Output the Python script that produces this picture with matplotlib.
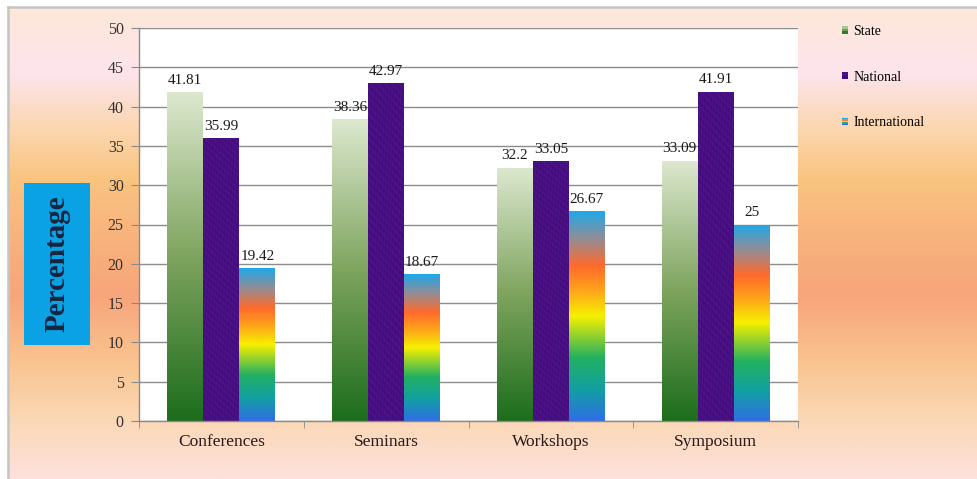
import numpy as np
import matplotlib
matplotlib.use("Agg")
import matplotlib.pyplot as plt
from matplotlib.colors import LinearSegmentedColormap
from matplotlib.patches import Rectangle
from matplotlib.legend_handler import HandlerBase
from matplotlib.lines import Line2D

categories = ["Conferences", "Seminars", "Workshops", "Symposium"]
series_names = ["State", "National", "International"]
state = [41.81, 38.36, 32.2, 33.09]
national = [35.99, 42.97, 33.05, 41.91]
international = [19.42, 18.67, 26.67, 25]
state_labels = ["41.81", "38.36", "32.2", "33.09"]
national_labels = ["35.99", "42.97", "33.05", "41.91"]
international_labels = ["19.42", "18.67", "26.67", "25"]
yticks = [0, 5, 10, 15, 20, 25, 30, 35, 40, 45, 50]

plt.rcParams['font.family'] = ['Liberation Serif', 'DejaVu Serif']

W, H = 977, 479
fig = plt.figure(figsize=(W / 100, H / 100), dpi=100)

# ---- background gradient ----
bg_ax = fig.add_axes([0, 0, 1, 1], zorder=-10)
bg_stops = [(0.0, "#fde8d6"), (0.15, "#fde4ec"), (0.27, "#fbd6ae"),
            (0.37, "#f9c480"), (0.50, "#f8b27d"), (0.62, "#f7a57a"),
            (0.76, "#f9c490"), (0.88, "#fbd8b6"), (1.0, "#fde1dc")]
bg_cmap = LinearSegmentedColormap.from_list("bg", bg_stops)
grad = np.linspace(0, 1, 400).reshape(-1, 1)
bg_ax.imshow(grad, cmap=bg_cmap, aspect='auto', extent=[0, 1, 1, 0],
             interpolation='bilinear')
bg_ax.set_xlim(0, 1)
bg_ax.set_ylim(1, 0)
bg_ax.axis('off')
# white margin + gray border (top and left)
bg_ax.add_patch(Rectangle((0, 0), 1, 7 / H, color='white', zorder=3))
bg_ax.add_patch(Rectangle((0, 0), 8 / W, 1, color='white', zorder=3))
bg_ax.plot([8 / W, 1], [7 / H, 7 / H], color='#c4c4c4', lw=1.8, zorder=4)
bg_ax.plot([8 / W, 8 / W], [7 / H, 1], color='#c4c4c4', lw=1.8, zorder=4)

# ---- main axes ----
ax = fig.add_axes([139 / W, (H - 421) / H, (798 - 139) / W, (421 - 28) / H])
ax.set_facecolor('white')
x = np.arange(len(categories)) + 0.5
bw = 36 / 164.75

state_cmap = LinearSegmentedColormap.from_list(
    "state", [(0, "#1c6d1c"), (0.5, "#7ea45e"), (1, "#dde8cf")])
nat_cmap = LinearSegmentedColormap.from_list(
    "nat", [(0, "#40097a"), (1, "#4a1185")])
intl_cmap = LinearSegmentedColormap.from_list(
    "intl", [(0, "#2f6ee6"), (0.15, "#12a0a2"), (0.30, "#22b062"),
             (0.50, "#f6f000"), (0.62, "#ffa51a"), (0.74, "#ff6a2c"),
             (0.86, "#9c8a8e"), (1.0, "#1ea8ea")])

vals = [state, national, international]
labels = [state_labels, national_labels, international_labels]
cmaps = [state_cmap, nat_cmap, intl_cmap]
offsets = [-bw, 0, bw]

gv = np.linspace(0, 1, 256).reshape(-1, 1)
for s in range(3):
    bars = ax.bar(x + offsets[s], vals[s], width=bw, facecolor='none',
                  edgecolor='none', zorder=3)
    for b, lab in zip(bars, labels[s]):
        x0, y0 = b.get_x(), b.get_y()
        w, h = b.get_width(), b.get_height()
        if s == 1:
            xx, yy = np.meshgrid(np.linspace(0, 30, 40), np.linspace(0, 120, 300))
            tex = 0.5 + 0.25 * np.sin(xx * 1.7 + yy * 0.9) * np.cos(yy * 1.3 - xx * 0.7)
            img = ax.imshow(tex, cmap=LinearSegmentedColormap.from_list(
                "tx", ["#36066a", "#5a1a9a"]), vmin=0, vmax=1,
                extent=[x0, x0 + w, y0, y0 + h], origin='lower',
                aspect='auto', zorder=2.5, interpolation='bilinear')
        else:
            img = ax.imshow(gv, cmap=cmaps[s], vmin=0, vmax=1,
                            extent=[x0, x0 + w, y0, y0 + h], origin='lower',
                            aspect='auto', zorder=2.5, interpolation='bilinear')
        img.set_clip_path(b)
        ax.annotate(lab, (x0 + w / 2, y0 + h), xytext=(0, 4),
                    textcoords='offset points', ha='center', va='bottom',
                    fontsize=11, color='#1a1a1a', zorder=5)

ax.set_xlim(0, 4)
ax.set_ylim(0, 50)
ax.set_yticks(yticks)
ax.set_yticklabels([str(t) for t in yticks])
ax.set_xticks(x)
ax.set_xticklabels(categories)
ax.set_xticks(np.arange(0, 5), minor=True)
ax.tick_params(axis='x', which='major', length=0, pad=9, labelsize=12.5,
               labelcolor='#2a1a1a')
ax.tick_params(axis='x', which='minor', length=5, color='#8a8a8a', direction='out')
ax.tick_params(axis='y', length=6, color='#8a8a8a', labelsize=11.5,
               labelcolor='#333333', pad=5)
ax.yaxis.grid(True, color='#8c8c8c', lw=1.0, zorder=1)
ax.set_axisbelow(True)
for sp in ['top', 'right']:
    ax.spines[sp].set_visible(False)
for sp in ['left', 'bottom']:
    ax.spines[sp].set_color('#8a8a8a')
    ax.spines[sp].set_linewidth(1.0)

# ---- y label box ----
fig.patches.append(Rectangle((24 / W, (H - 345) / H), 66 / W, 162 / H,
                             transform=fig.transFigure, facecolor='#0aa2e4',
                             edgecolor='none', zorder=1))
fig.text(57 / W, 1 - 264 / H, "Percentage", rotation=90, ha='center',
         va='center', fontsize=21, fontweight='bold', color='#15253f')

# ---- legend ----
class StripeHandler(HandlerBase):
    def __init__(self, colors):
        super().__init__()
        self.colors = colors

    def create_artists(self, legend, orig_handle, xdescent, ydescent,
                       width, height, fontsize, trans):
        n = len(self.colors)
        arts = []
        for i, c in enumerate(self.colors):
            r = Rectangle((-xdescent, -ydescent + i * height / n), width,
                          height / n, facecolor=c, edgecolor='none',
                          transform=trans)
            arts.append(r)
        return arts

h_state = Rectangle((0, 0), 1, 1)
h_nat = Rectangle((0, 0), 1, 1)
h_int = Rectangle((0, 0), 1, 1)
hmap = {h_state: StripeHandler(["#2f7a2f", "#6e9e5a", "#a8c890"]),
        h_nat: StripeHandler(["#3e0a78", "#4a1186"]),
        h_int: StripeHandler(["#2f6ee6", "#22b062", "#f6f000", "#ff7a2c", "#1ea8ea"])}
fig.legend([h_state, h_nat, h_int], series_names, handler_map=hmap,
           loc='upper left', bbox_to_anchor=(842 / W, 1 - 25 / H),
           frameon=False, fontsize=10, labelspacing=2.35, handlelength=0.45,
           handleheight=0.45, handletextpad=0.35, borderpad=0, borderaxespad=0)

fig.savefig("out.png", dpi=100)
